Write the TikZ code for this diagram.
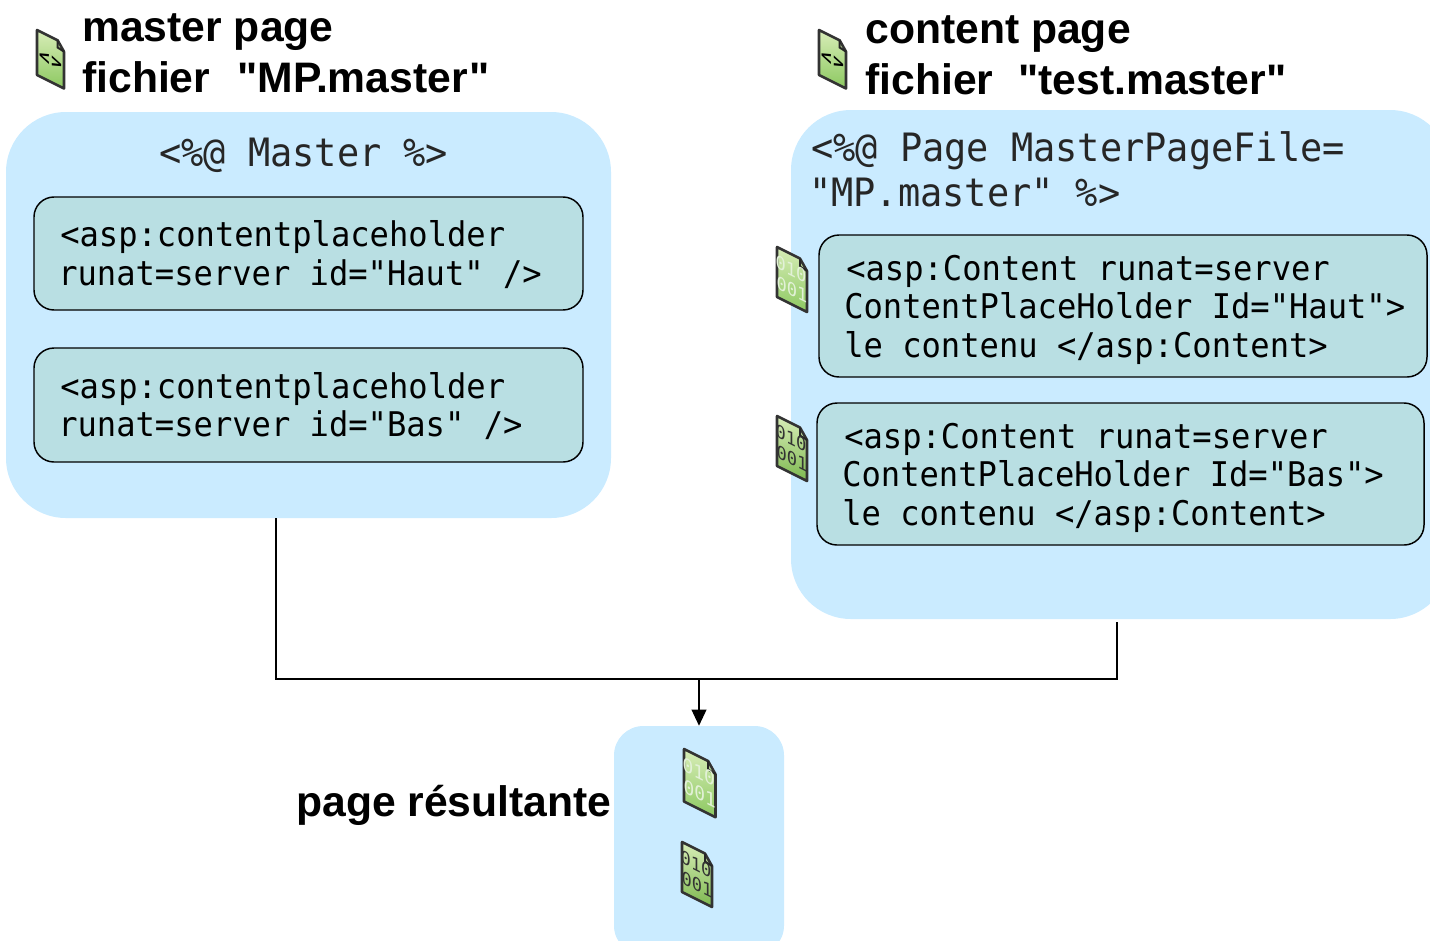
\documentclass[tikz,border=0pt]{standalone}
\usepackage{fontspec}
\setmainfont{Liberation Sans}[Ligatures=TeXOff]
\newfontfamily\monofam[FakeStretch=0.945]{DejaVu Sans Mono}
\usetikzlibrary{arrows.meta}
\definecolor{panelblue}{HTML}{CAEBFF}
\definecolor{innerteal}{HTML}{B9DFE3}
\definecolor{greenlight}{HTML}{D8EDB8}
\definecolor{greendark}{HTML}{8CC860}
\definecolor{greendeep}{HTML}{7DB84F}
\tikzset{
  x=0.75pt,y=-0.75pt,
  panel/.style={fill=panelblue,draw=none,rounded corners=45pt},
  inner box/.style={fill=innerteal,draw=black,line width=1.1pt,rounded corners=15pt},
  code/.style={anchor=base west,inner sep=0pt,font=\monofam\fontsize{25.5}{25.5}\selectfont,text=black},
  codetitle/.style={anchor=base west,inner sep=0pt,font=\monofam\fontsize{29.3}{29.3}\selectfont,text=black!85},
  heading/.style={anchor=base west,inner sep=0pt,font=\bfseries\fontsize{32}{32}\selectfont,text=black},
  link/.style={draw=black,line width=1.2pt},
  icontext/.style={inner sep=0pt,transform shape,font=\monofam\fontsize{13.5}{13.5}\selectfont},
  iconmark/.style={inner sep=0pt,transform shape,font=\monofam\bfseries\fontsize{16}{16}\selectfont},
}
% \iconbody{top colour}{bottom colour}
\newcommand{\iconbody}[2]{%
    \path[top color=#1,bottom color=#2,draw=black!80,line width=1.9pt,line join=round]
      (0,0) -- (23,0) -- (30,9) -- (30,50) -- (0,50) -- cycle;
    \draw[black!85,line width=1.5pt] (23,0) -- (23,8) -- (30,9);}
% \fileicon{name}{x}{y}{scale}{top colour}{bottom colour}{text colour}{line 1}{line 2}
\newcommand{\fileicon}[9]{%
  \begin{scope}[shift={(#2,#3)},scale=#4,yslant=-0.5]
    \iconbody{#5}{#6}
    \node[icontext,text=#7] (#1a) at (14,15) {#8};
    \node[icontext,text=#7] (#1b) at (15,35) {#9};
  \end{scope}}
% \markicon{name}{x}{y}
\newcommand{\markicon}[3]{%
  \begin{scope}[shift={(#2,#3)},scale=0.9,yslant=-0.5]
    \iconbody{greenlight}{greendark}
    \node[iconmark,text=black] (#1) at (15,27) {<\kern1pt>};
  \end{scope}}
\begin{document}
\begin{tikzpicture}
\useasboundingbox (0,0) rectangle (1430,940);
\begin{scope}
\clip (0,0) rectangle (1430,940);
\path[panel] (6,112) rectangle (611,518);
\path[panel] (791,110) rectangle (1450,619);
\path[panel,rounded corners=22pt] (614,726) rectangle (784,955);
\end{scope}
% invisible anchors of the panels for the connectors
\node[inner sep=0pt,minimum size=0pt] (leftfoot) at (276,518) {};
\node[inner sep=0pt,minimum size=0pt] (rightfoot) at (1117,622) {};
\node[inner sep=0pt,minimum size=0pt] (resulttop) at (699,726) {};
\coordinate (join) at (699,679);
\draw[link] (leftfoot) |- (join);
\draw[link] (rightfoot) |- (join);
\draw[link,-{Triangle[length=12pt,width=11pt]}] (join) -- (resulttop);
% inner boxes
\path[inner box] (34,197) rectangle (583,310);
\path[inner box] (34,348) rectangle (583,462);
\path[inner box] (819,235) rectangle (1427,377);
\path[inner box] (817,403) rectangle (1424,545);
% headings
\node[heading] (h1) at (82,41) {master page};
\node[heading] (h2) at (82,92) {fichier\ \ \kern2.5pt"MP.master\kern1.5pt"};
\node[heading] (h3) at (865,43) {content page};
\node[heading] (h4) at (865,94) {fichier\ \ \kern1pt"test.master"};
\node[heading] (h5) at (296,816) {page résultante};
% code
\node[codetitle] (t1) at (159,166) {<\%@ Master \%>};
\node[code] (a1) at (60,246) {<asp:contentplaceholder};
\node[code] (a2) at (58,285) {runat=server id="Haut" />};
\node[code] (b1) at (60,398) {<asp:contentplaceholder};
\node[code] (b2) at (58,436) {runat=server id="Bas" />};
\node[codetitle] (t2) at (811,161) {<\%@ Page MasterPageFile=};
\node[codetitle] (t3) at (809,206) {"MP.master" \%>};
\node[code] (c1) at (846,280) {<asp:Content runat=server};
\node[code] (c2) at (844,318) {ContentPlaceHolder Id="Haut">};
\node[code] (c3) at (844,357) {le contenu </asp:Content>};
\node[code] (d1) at (844,448) {<asp:Content runat=server};
\node[code] (d2) at (842,486) {ContentPlaceHolder Id="Bas">};
\node[code] (d3) at (842,525) {le contenu </asp:Content>};
% icons
\markicon{ia}{37}{30}
\markicon{if}{819}{30}
\fileicon{ib}{777}{247}{1}{greenlight}{greendark}{white!75!greendark}{010}{001}
\fileicon{ic}{777}{416}{1}{greenlight}{greendeep}{black!80}{010}{001}
\fileicon{id}{684}{749}{1.05}{greenlight}{greendark}{white!75!greendark}{010}{001}
\fileicon{ie}{682}{842}{1}{greenlight}{greendeep}{black!80}{010}{001}
\end{tikzpicture}
\end{document}
